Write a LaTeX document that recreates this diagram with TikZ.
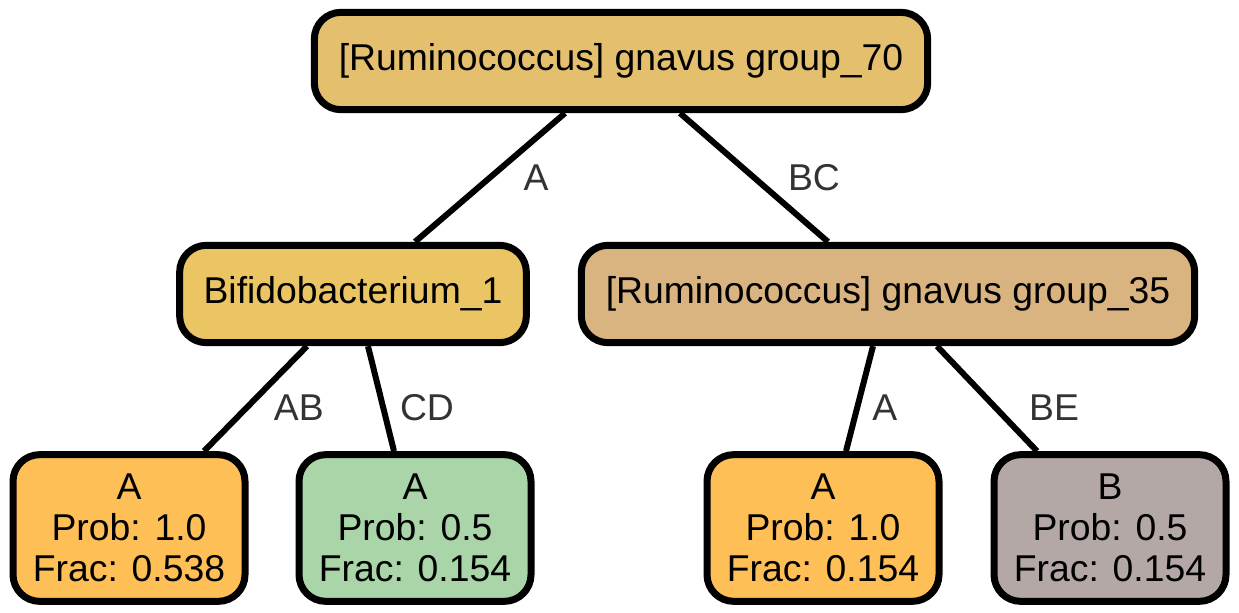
\documentclass[tikz,border=0pt]{standalone}
\usepackage{fontspec}
\setmainfont{Liberation Sans}
\usetikzlibrary{backgrounds}
\definecolor{rootfill}{RGB}{227,191,110}
\definecolor{bififill}{RGB}{235,197,99}
\definecolor{grpfill}{RGB}{217,180,128}
\definecolor{leafA}{RGB}{253,191,86}
\definecolor{leafgreen}{RGB}{169,213,168}
\definecolor{leafB}{RGB}{179,168,166}
\definecolor{edgetext}{RGB}{51,51,51}

\begin{document}
\begin{tikzpicture}[x=0.75pt,y=-0.75pt,
  box/.style={draw=black,line width=5.25pt,rounded corners=20pt,align=center,
    font=\fontsize{28}{31}\selectfont,inner sep=0pt,minimum height=73pt},
  leaf/.style={box,minimum width=174pt,minimum height=110pt},
  elabel/.style={text=edgetext,font=\fontsize{28}{31}\selectfont,inner sep=0pt},
  edge/.style={line width=4.5pt}]
  \useasboundingbox (0,0) rectangle (1239,613);
  % tree nodes
  \node[box,fill=rootfill,minimum width=460pt] (g70) at (621,61) {[Ruminococcus] gnavus group\_70};
  \node[box,fill=bififill,minimum width=260pt] (bif1) at (353,294) {Bifidobacterium\_1};
  \node[box,fill=grpfill,minimum width=460pt] (g35) at (888,294) {[Ruminococcus] gnavus group\_35};
  % leaves
  \node[leaf,fill=leafA] (leaf1) at (129,528) {A\\Prob: 1.0\\Frac: 0.538};
  \node[leaf,fill=leafgreen] (leaf2) at (415,528) {A\\Prob: 0.5\\Frac: 0.154};
  \node[leaf,fill=leafA] (leaf3) at (823,528) {A\\Prob: 1.0\\Frac: 0.154};
  \node[leaf,fill=leafB] (leaf4) at (1110,528) {B\\Prob: 0.5\\Frac: 0.154};
  % edges
  \begin{scope}[on background layer]
    \draw[edge] ([xshift=-42pt]g70.south) -- node[elabel,xshift=34.5pt] {A} ([xshift=46.5pt]bif1.north);
    \draw[edge] ([xshift=44.25pt]g70.south) -- node[elabel,xshift=45pt] {BC} ([xshift=-45pt]g35.north);
    \draw[edge] ([xshift=-34.5pt]bif1.south) -- node[elabel,xshift=32.5pt,yshift=-6.75pt] {AB} ([xshift=56.25pt]leaf1.north);
    \draw[edge] ([xshift=11.25pt]bif1.south) -- node[elabel,xshift=34.5pt,yshift=-6.75pt] {CD} ([xshift=-15.75pt]leaf2.north);
    \draw[edge] ([xshift=-11.25pt]g35.south) -- node[elabel,xshift=19pt,yshift=-6.75pt] {A} ([xshift=17.25pt]leaf3.north);
    \draw[edge] ([xshift=36.75pt]g35.south) -- node[elabel,xshift=50.25pt,yshift=-6.75pt] {BE} ([xshift=-54.75pt]leaf4.north);
  \end{scope}
\end{tikzpicture}
\end{document}
